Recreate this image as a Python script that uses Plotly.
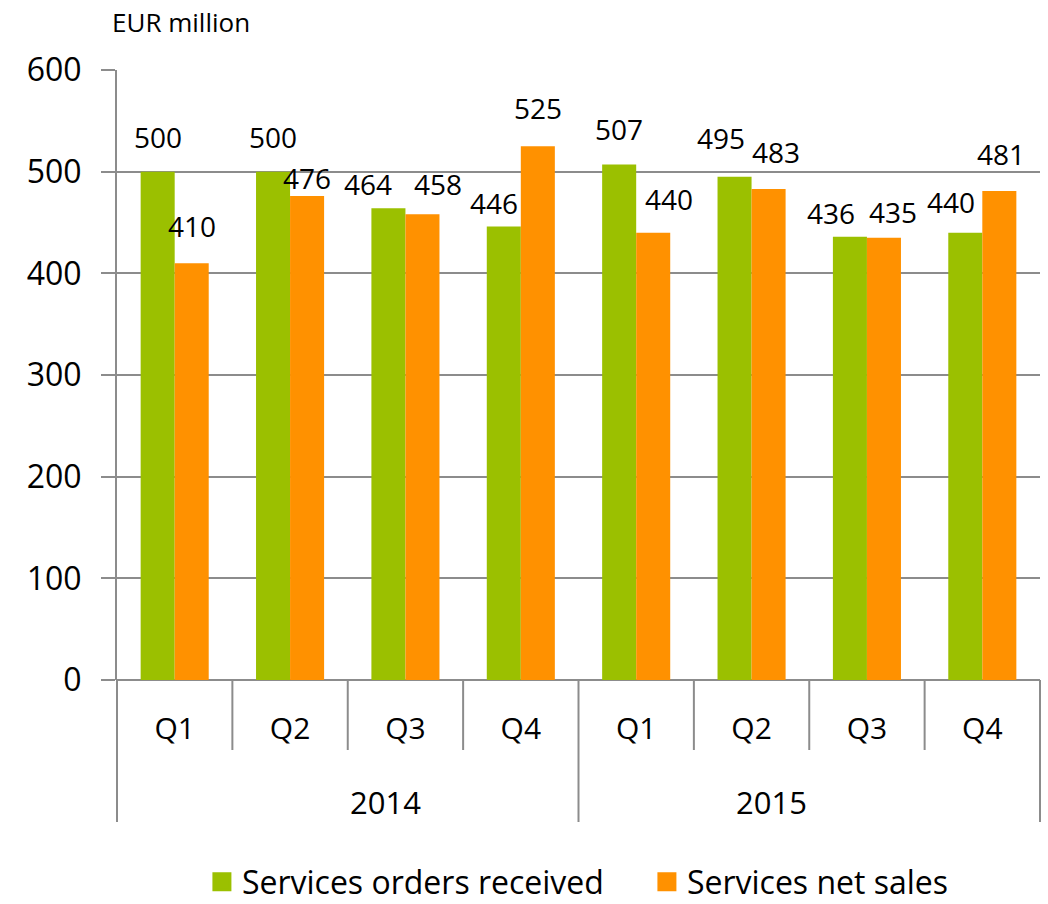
import plotly.graph_objects as go

# ---- data ----
years = ["2014", "2015"]
quarters = ["Q1", "Q2", "Q3", "Q4", "Q1", "Q2", "Q3", "Q4"]
orders_received = [500, 500, 464, 446, 507, 495, 436, 440]
net_sales = [410, 476, 458, 525, 440, 483, 435, 481]
series_names = ["Services orders received", "Services net sales"]
y_ticks = [0, 100, 200, 300, 400, 500, 600]

# ---- style ----
GREEN = "#9BC000"
ORANGE = "#FF9100"
GRID = "#8C8C8C"
FONT = "Open Sans"
BARGAP = 0.41
# label nudges (px): vertical gap above bar top, horizontal shift
green_gap = [23, 23, 12, 12, 24, 27, 12, 19]
green_dx = [0, 0, -20, -10, 0, -14, -19, -14]
orange_gap = [25, 6, 18, 26, 22, 25, 14, 25]
orange_dx = [0, 0, 16, 0, 16, 7, 9, 2]

n = len(quarters)
xs = list(range(n))

fig = go.Figure()
fig.add_trace(go.Bar(x=xs, y=orders_received, name=series_names[0],
                     marker=dict(color=GREEN, line=dict(width=0)),
                     showlegend=False))
fig.add_trace(go.Bar(x=xs, y=net_sales, name=series_names[1],
                     marker=dict(color=ORANGE, line=dict(width=0)),
                     showlegend=False))
# legend entries with larger square swatches
for name, col in zip(series_names, [GREEN, ORANGE]):
    fig.add_trace(go.Scatter(x=[None], y=[None], mode="markers", name=name,
                             marker=dict(symbol="square", size=16, color=col,
                                         line=dict(color=col, width=3))))

half = (1 - BARGAP) / 4  # center offset of each bar in the group
annotations = []
for i in xs:
    annotations.append(dict(x=i - half, y=orders_received[i], xref="x", yref="y",
                            text=str(orders_received[i]), showarrow=False,
                            yanchor="bottom", xanchor="center",
                            yshift=green_gap[i] - 9, xshift=green_dx[i],
                            font=dict(family=FONT, size=28, color="black")))
    annotations.append(dict(x=i + half, y=net_sales[i], xref="x", yref="y",
                            text=str(net_sales[i]), showarrow=False,
                            yanchor="bottom", xanchor="center",
                            yshift=orange_gap[i] - 9, xshift=orange_dx[i],
                            font=dict(family=FONT, size=28, color="black")))

x_lo, x_hi = -0.5, n - 0.5
def to_paper(v):
    return (v - x_lo) / (x_hi - x_lo)

per_year = n // len(years)
for k, yr in enumerate(years):
    c = k * per_year + (per_year - 1) / 2
    annotations.append(dict(x=to_paper(c), y=-0.2, xref="paper", yref="paper",
                            text=yr, showarrow=False, yanchor="middle",
                            font=dict(family=FONT, size=31, color="black")))

annotations.append(dict(x=-0.008, y=1.079, xref="paper", yref="paper",
                        text="EUR million", showarrow=False, xanchor="left",
                        yanchor="middle",
                        font=dict(family=FONT, size=26, color="black")))

shapes = []
for b in range(n + 1):
    pos = to_paper(b - 0.5)
    long = (b % per_year == 0)
    shapes.append(dict(type="line", xref="paper", yref="paper",
                       x0=pos, x1=pos, y0=0, y1=-0.2328 if long else -0.1148,
                       line=dict(color=GRID, width=2)))

fig.update_layout(
    width=1048, height=904,
    margin=dict(l=117, r=8, t=70, b=224, autoexpand=False),
    paper_bgcolor="white", plot_bgcolor="white",
    barmode="group", bargap=BARGAP, bargroupgap=0,
    font=dict(family=FONT, color="black"),
    showlegend=True,
    legend=dict(orientation="h", x=0.092, xanchor="left", y=-0.331,
                yanchor="middle", font=dict(family=FONT, size=32),
                itemsizing="trace", entrywidth=400, entrywidthmode="pixels",
                bgcolor="rgba(0,0,0,0)"),
    annotations=annotations,
    shapes=shapes,
    xaxis=dict(range=[x_lo, x_hi], tickvals=xs, ticktext=quarters,
               ticks="", showgrid=False, zeroline=False,
               showline=False, tickfont=dict(family=FONT, size=30),
               ticklabelstandoff=28, fixedrange=True),
    yaxis=dict(range=[0, 600], tickvals=y_ticks, ticks="outside", ticklen=14,
               tickwidth=2, tickcolor=GRID, showgrid=True, gridcolor=GRID,
               gridwidth=2, showline=True, linecolor=GRID, linewidth=2,
               zeroline=True, zerolinecolor=GRID, zerolinewidth=2,
               tickfont=dict(family=FONT, size=32), ticklabelstandoff=13,
               fixedrange=True),
)

fig.write_html("out.html", config={"displayModeBar": False},
               post_script="document.body.style.margin='0';")
